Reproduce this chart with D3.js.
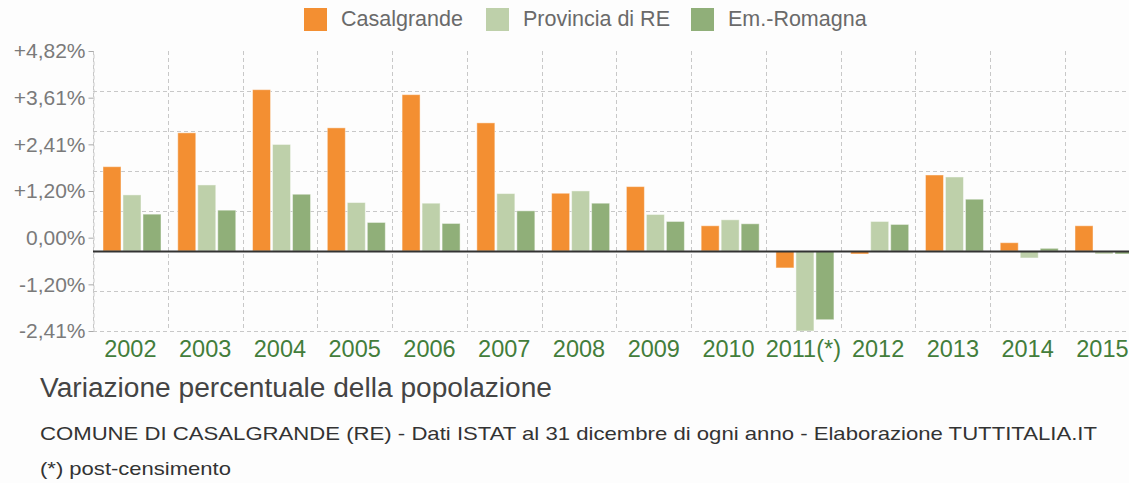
<!DOCTYPE html>
<html>
<head>
<meta charset="utf-8">
<script src="https://cdn.jsdelivr.net/npm/d3@7"></script>
<style>
  body { margin: 0; background: #fdfdfd; }
  svg { font-family: "Liberation Sans", Arial, sans-serif; }
</style>
</head>
<body>
<svg id="chart"></svg>
<script>
const years = ["2002", "2003", "2004", "2005", "2006", "2007", "2008", "2009", "2010", "2011(*)", "2012", "2013", "2014", "2015"];
const series = ["Casalgrande", "Provincia di RE", "Em.-Romagna"];
const casalgrande = [2.54, 3.56, 4.86, 3.71, 4.71, 3.86, 1.74, 1.94, 0.76, -0.51, -0.09, 2.29, 0.25, 0.76];
const provincia = [1.69, 1.99, 3.21, 1.46, 1.44, 1.73, 1.81, 1.10, 0.94, -2.41, 0.89, 2.23, -0.21, -0.09];
const emRomagna = [1.11, 1.23, 1.71, 0.86, 0.83, 1.21, 1.44, 0.89, 0.82, -2.07, 0.80, 1.56, 0.08, -0.09];
const yTickLabels = ["-2,41%", "-1,20%", "0,00%", "+1,20%", "+2,41%", "+3,61%", "+4,82%"];
const gridValues = [-2.41, -1.205, 0, 1.205, 2.41, 3.615, 4.82];
const colors = ["#f38f32", "#bed0aa", "#90af79"];

const width = 1129, height = 483;
const margin = { top: 51, left: 93, bottom: 331 };
const bandW = 74.77;

const svg = d3.select("#chart").attr("width", width).attr("height", height);

const x = d3.scaleBand()
    .domain(years)
    .range([margin.left, margin.left + bandW * years.length]);

const x1 = d3.scaleBand()
    .domain(series)
    .range([10, 68])
    .paddingInner(0.1);

const y = d3.scaleLinear()
    .domain([-2.41, 6.025])
    .range([margin.bottom, margin.top]);

// labels are spread evenly along the axis, not at their values
const yLab = d3.scalePoint()
    .domain(yTickLabels)
    .range([margin.bottom, margin.top]);

svg.append("clipPath").attr("id", "plot")
    .append("rect")
    .attr("x", margin.left).attr("y", margin.top)
    .attr("width", width - margin.left).attr("height", margin.bottom - margin.top);

// grid
const grid = svg.append("g")
    .attr("stroke", "#c8c8c8")
    .attr("stroke-dasharray", "4,3");

grid.selectAll("line.h")
    .data(gridValues)
    .join("line")
    .attr("class", "h")
    .attr("x1", margin.left).attr("x2", width)
    .attr("y1", d => Math.round(y(d)) + 0.5).attr("y2", d => Math.round(y(d)) + 0.5);

grid.selectAll("line.v")
    .data(years)
    .join("line")
    .attr("class", "v")
    .attr("x1", d => Math.round(x(d)) + 0.5).attr("x2", d => Math.round(x(d)) + 0.5)
    .attr("y1", margin.top).attr("y2", margin.bottom);

// y axis
const yAxis = svg.append("g")
    .attr("transform", `translate(${margin.left + 0.5},0)`)
    .call(d3.axisLeft(yLab).tickSize(5).tickSizeOuter(0).tickPadding(3));
yAxis.select(".domain").attr("stroke", "#c8c8c8").attr("stroke-dasharray", "4,3");
yAxis.selectAll(".tick line").attr("stroke", "#aaa");
yAxis.selectAll("text")
    .attr("fill", "#7a7a7a")
    .attr("font-size", "21px");

// bars
const values = [casalgrande, provincia, emRomagna];
const bars = svg.append("g").attr("clip-path", "url(#plot)");
series.forEach((s, si) => {
    bars.append("g")
        .attr("fill", colors[si])
        .attr("stroke", "#fff")
        .attr("stroke-opacity", 0.45)
        .selectAll("rect")
        .data(years)
        .join("rect")
        .attr("x", (d, i) => x(d) + x1(s))
        .attr("y", (d, i) => Math.min(y(values[si][i]), y(0)))
        .attr("width", x1.bandwidth())
        .attr("height", (d, i) => Math.abs(y(values[si][i]) - y(0)));
});

// zero line
svg.append("line")
    .attr("x1", margin.left).attr("x2", width)
    .attr("y1", y(0) + 0.5).attr("y2", y(0) + 0.5)
    .attr("stroke", "#333")
    .attr("stroke-width", 2);

// x labels
svg.append("g")
    .selectAll("text")
    .data(years)
    .join("text")
    .attr("x", d => x(d) + x.bandwidth() / 2)
    .attr("y", 357)
    .attr("text-anchor", "middle")
    .attr("fill", "#437d3b")
    .attr("font-size", "23.5px")
    .text(d => d);

// legend
const legendX = [304, 486, 691];
const legend = svg.append("g");
series.forEach((s, i) => {
    legend.append("rect")
        .attr("x", legendX[i]).attr("y", 8)
        .attr("width", 23).attr("height", 23)
        .attr("fill", colors[i]);
    legend.append("text")
        .attr("x", legendX[i] + 37).attr("y", 26)
        .attr("fill", "#6a6a6a")
        .attr("font-size", "21.5px")
        .text(s);
});

// titles
svg.append("text")
    .attr("x", 40).attr("y", 397)
    .attr("fill", "#444")
    .attr("font-size", "27px")
    .attr("textLength", 512)
    .attr("lengthAdjust", "spacingAndGlyphs")
    .text("Variazione percentuale della popolazione");
svg.append("text")
    .attr("x", 40).attr("y", 440)
    .attr("fill", "#333")
    .attr("font-size", "19px")
    .attr("textLength", 1057)
    .attr("lengthAdjust", "spacingAndGlyphs")
    .text("COMUNE DI CASALGRANDE (RE) - Dati ISTAT al 31 dicembre di ogni anno - Elaborazione TUTTITALIA.IT");
svg.append("text")
    .attr("x", 40).attr("y", 475)
    .attr("fill", "#333")
    .attr("font-size", "19px")
    .attr("textLength", 191)
    .attr("lengthAdjust", "spacingAndGlyphs")
    .text("(*) post-censimento");
</script>
</body>
</html>
